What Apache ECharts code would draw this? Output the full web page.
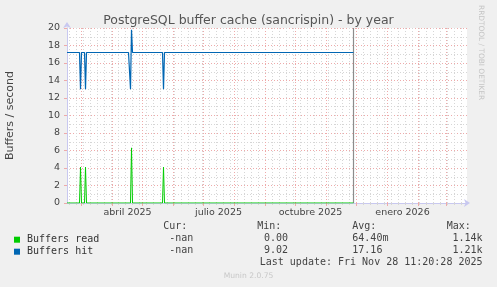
<!DOCTYPE html>
<html><head><meta charset="utf-8">
<script src="https://cdn.jsdelivr.net/npm/echarts@6/dist/echarts.min.js"></script>
<style>html,body{margin:0;padding:0;background:#f0f0f0;}#c{width:497px;height:287px;}</style>
</head><body><div id="c"></div>
<script>
// ---- data ----
const xStart = '2025-02-15';
const xEnd = '2026-03-22';
const nowDate = '2025-11-28T12:00';

const monthStarts = ['2025-03-01','2025-04-01','2025-05-01','2025-06-01','2025-07-01','2025-08-01',
  '2025-09-01','2025-10-01','2025-11-01','2025-12-01','2026-01-01','2026-02-01','2026-03-01'];
const firstMonday = '2025-02-17';
const labelDates = ['2025-04-16T12:00','2025-07-16T12:00','2025-10-16T12:00','2026-01-16T12:00'];
const labelTexts = ['abril 2025','julio 2025','octubre 2025','enero 2026'];
const yMinorTicks = [1,3,5,7,9,11,13,15,17,19];

const readDates = ['2025-02-15','2025-02-27T12:00','2025-02-28T12:00','2025-03-01T12:00',
  '2025-03-04T12:00','2025-03-05T12:00','2025-03-06T12:00',
  '2025-04-19T12:00','2025-04-20T12:00','2025-04-21T12:00',
  '2025-05-21T12:00','2025-05-22T12:00','2025-05-23T12:00', nowDate];
const readValues = [0,0,4.1,0, 0,4.1,0, 0,6.3,0, 0,4.1,0, 0];

const hitDates = ['2025-02-15','2025-02-27T12:00','2025-02-28T12:00','2025-03-01T12:00',
  '2025-03-04T12:00','2025-03-05T12:00','2025-03-06T12:00',
  '2025-04-17T12:00','2025-04-18T12:00','2025-04-19T12:00','2025-04-20T12:00','2025-04-21T12:00',
  '2025-05-21T12:00','2025-05-22T12:00','2025-05-23T12:00', nowDate];
const hitValues = [17.2,17.2,13.0,17.2, 17.2,13.0,17.2, 17.2,17.3,13.0,19.8,17.2, 17.2,13.0,17.2, 17.2];

const statHeaders = ['Cur:','Min:','Avg:','Max:'];
const readStats = ['-nan','0.00','64.40m','1.14k'];
const hitStats = ['-nan','9.02','17.16','1.21k'];
const lastUpdate = 'Last update: Fri Nov 28 11:20:28 2025';

// ---- build ----
const P = v => echarts.time.parse(v).getTime();
const tMin = P(xStart), tMax = P(xEnd);
const weekStarts = [];
for (let t = P(firstMonday); t <= tMax; t += 7 * 86400000) weekStarts.push(t);
const monthTimes = monthStarts.map(P);
const labelTimes = labelDates.map(P);

const MONO = 'DejaVu Sans Mono';
const SANS = 'DejaVu Sans';
const RED = '#eeaaaa', GRAY = '#d6d6d6', AXIS = '#c8c8f0', NOW = '#8c8c8c';
const txtCol = '#444';

function baseX(extra) {
  return Object.assign({
    type: 'value', min: tMin, max: tMax, gridIndex: 0, position: 'bottom', offset: 0,
    axisLine: {show: false}, axisTick: {show: false}, axisLabel: {show: false},
    splitLine: {show: false}
  }, extra);
}

const chart = echarts.init(document.getElementById('c'), null, {renderer: 'canvas'});
const colX = [163.3, 257.3, 352.3, 446.7];
const valX = [169.3, 264, 352.3];
const rowY = [227.7, 239.7, 251.7, 263.3];
const graphics = [];
statHeaders.forEach((h, i) => graphics.push({type: 'text', left: colX[i], top: rowY[0] - 6,
  style: {text: h, font: '10px ' + MONO, fill: txtCol}}));
[readStats, hitStats].forEach((arr, r) => {
  arr.forEach((v, i) => {
    if (i < 3) graphics.push({type: 'text', left: valX[i], top: rowY[r + 1] - 6,
      style: {text: v, font: '10px ' + MONO, fill: txtCol}});
    else graphics.push({type: 'text', right: 497 - 482.5, top: rowY[r + 1] - 6,
      style: {text: v, font: '10px ' + MONO, fill: txtCol}});
  });
});
graphics.push({type: 'text', right: 497 - 482.5, top: rowY[3] - 6,
  style: {text: lastUpdate, font: '10px ' + MONO, fill: txtCol}});
graphics.push({type: 'text', left: 'center', top: 272,
  style: {text: 'Munin 2.0.75', font: '7.6px ' + SANS, fill: '#c8c8c8'}});
graphics.push({type: 'text', x: 484, y: 5, rotation: -Math.PI / 2,
  style: {text: 'RRDTOOL / TOBI OETIKER', font: '7.4px ' + SANS, fill: '#c4c4c4'}});

chart.setOption({
  backgroundColor: '#f0f0f0',
  animation: false,
  title: {text: 'PostgreSQL buffer cache (sancrispin) - by year', left: 'center', top: 9,
    textStyle: {fontFamily: SANS, fontSize: 12.5, fontWeight: 'normal', color: '#555'}},
  legend: {orient: 'vertical', left: 14, top: 233.7, padding: 0, itemGap: 0,
    itemWidth: 6, itemHeight: 6, icon: 'rect', selectedMode: false,
    textStyle: {fontFamily: MONO, fontSize: 10, color: '#333', lineHeight: 12, padding: [0, 0, 0, 2]},
    data: ['Buffers read', 'Buffers hit']},
  grid: {left: 67, top: 28, width: 400, height: 175, backgroundColor: '#ffffff', show: true,
    borderWidth: 0, containLabel: false, outerBoundsMode: 'none'},
  xAxis: [
    baseX({axisTick: {show: true, customValues: weekStarts, length: 2, lineStyle: {color: GRAY}},
      splitLine: {show: true, lineStyle: {color: GRAY, type: [1, 2], width: 1}}}),
    baseX({axisTick: {show: true, customValues: monthTimes, length: 3, lineStyle: {color: RED}},
      splitLine: {show: true, lineStyle: {color: RED, type: [1, 2], width: 1}}}),
    baseX({axisLabel: {show: true, customValues: labelTimes, margin: 5,
      fontFamily: SANS, fontSize: 9.5, color: txtCol,
      formatter: v => { for (let i = 0; i < labelTimes.length; i++) if (Math.abs(labelTimes[i] - v) < 3600000) return labelTexts[i]; return ''; }}}),
    baseX({axisLine: {show: true, symbol: ['none', 'arrow'], symbolSize: [6, 6], symbolOffset: [0, 3],
      lineStyle: {color: AXIS, width: 1}}}),
    baseX({z: 2, axisTick: {show: false, customValues: [P(nowDate)]},
      splitLine: {show: true, lineStyle: {color: NOW, type: 'solid', width: 1.2}}})
  ],
  yAxis: [
    {type: 'value', min: 0, max: 20, interval: 1, position: 'left', offset: 0,
      axisLine: {show: false}, axisLabel: {show: false},
      axisTick: {show: false, customValues: yMinorTicks},
      splitLine: {show: true, lineStyle: {color: GRAY, type: [1, 2]}}},
    {type: 'value', min: 0, max: 20, interval: 2, position: 'left', offset: 0,
      name: 'Buffers / second', nameLocation: 'middle', nameGap: 51,
      nameTextStyle: {fontFamily: SANS, fontSize: 11, color: txtCol},
      axisLine: {show: true, symbol: ['none', 'arrow'], symbolSize: [6, 6], symbolOffset: [0, 6],
        lineStyle: {color: AXIS, width: 1}},
      axisTick: {show: true, length: 3, lineStyle: {color: RED}},
      axisLabel: {fontFamily: SANS, fontSize: 9.5, color: txtCol, margin: 7},
      splitLine: {show: true, lineStyle: {color: RED, type: [1, 2]}}}
  ],
  graphic: graphics,
  series: [
    {name: 'Buffers read', type: 'line', xAxisIndex: 3, yAxisIndex: 1,
      data: readDates.map((d, i) => [P(d), readValues[i]]),
      showSymbol: false, color: '#00cc00', lineStyle: {width: 1}, z: 3},
    {name: 'Buffers hit', type: 'line', xAxisIndex: 3, yAxisIndex: 1,
      data: hitDates.map((d, i) => [P(d), hitValues[i]]),
      showSymbol: false, color: '#0066b3', lineStyle: {width: 1.2}, z: 4}
  ]
});
</script></body></html>
